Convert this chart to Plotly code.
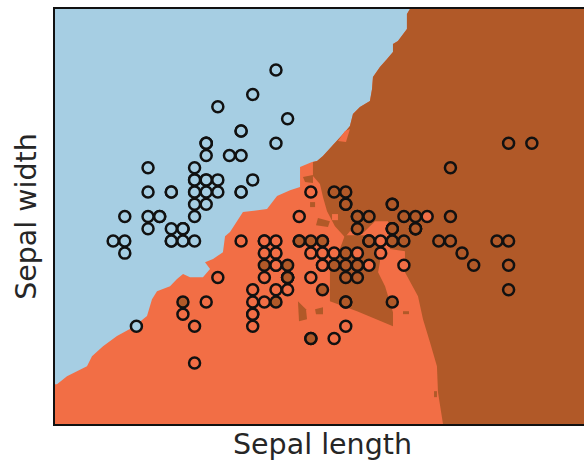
import plotly.graph_objects as go

# Iris samples (sepal length, sepal width)
setosa_length = [5.1,4.9,4.7,4.6,5.0,5.4,4.6,5.0,4.4,4.9,5.4,4.8,4.8,4.3,5.8,5.7,5.4,5.1,5.7,5.1,5.4,5.1,4.6,5.1,4.8,5.0,5.0,5.2,5.2,4.7,4.8,5.4,5.2,5.5,4.9,5.0,5.5,4.9,4.4,5.1,5.0,4.5,4.4,5.0,5.1,4.8,5.1,4.6,5.3,5.0]
setosa_width = [3.5,3.0,3.2,3.1,3.6,3.9,3.4,3.4,2.9,3.1,3.7,3.4,3.0,3.0,4.0,4.4,3.9,3.5,3.8,3.8,3.4,3.7,3.6,3.3,3.4,3.0,3.4,3.5,3.4,3.2,3.1,3.4,4.1,4.2,3.1,3.2,3.5,3.1,3.0,3.4,3.5,2.3,3.2,3.5,3.8,3.0,3.8,3.2,3.7,3.3]
versicolor_length = [7.0,6.4,6.9,5.5,6.5,5.7,6.3,4.9,6.6,5.2,5.0,5.9,6.0,6.1,5.6,6.7,5.6,5.8,6.2,5.6,5.9,6.1,6.3,6.1,6.4,6.6,6.8,6.7,6.0,5.7,5.5,5.5,5.8,6.0,5.4,6.0,6.7,6.3,5.6,5.5,5.5,6.1,5.8,5.0,5.6,5.7,5.7,6.2,5.1,5.7]
versicolor_width = [3.2,3.2,3.1,2.3,2.8,2.8,3.3,2.4,2.9,2.7,2.0,3.0,2.2,2.9,2.9,3.1,3.0,2.7,2.2,2.5,3.2,2.8,2.5,2.8,2.9,3.0,2.8,3.0,2.9,2.6,2.4,2.4,2.7,2.7,3.0,3.4,3.1,2.3,3.0,2.5,2.6,3.0,2.6,2.3,2.7,3.0,2.9,2.9,2.5,2.8]
virginica_length = [6.3,5.8,7.1,6.3,6.5,7.6,4.9,7.3,6.7,7.2,6.5,6.4,6.8,5.7,5.8,6.4,6.5,7.7,7.7,6.0,6.9,5.6,7.7,6.3,6.7,7.2,6.2,6.1,6.4,7.2,7.4,7.9,6.4,6.3,6.1,7.7,6.3,6.4,6.0,6.9,6.7,6.9,5.8,6.8,6.7,6.7,6.3,6.5,6.2,5.9]
virginica_width = [3.3,2.7,3.0,2.9,3.0,3.0,2.5,2.9,2.5,3.6,3.2,2.7,3.0,2.5,2.8,3.2,3.0,3.8,2.6,2.2,3.2,2.8,2.8,2.7,3.3,3.2,2.8,3.0,2.8,3.0,2.8,3.8,2.8,2.8,2.6,3.0,3.4,3.1,3.0,3.1,3.1,3.1,2.7,3.2,3.3,3.0,2.5,3.0,3.4,3.0]

# Decision-surface boundaries (data units)
upper_edge_x = [6.852,6.826,6.826,6.792,6.749,6.706,6.706,6.655,6.594,6.534,6.526,6.508,6.422,6.362,6.336,6.293,6.233,6.182,6.104,6.053]
upper_edge_y = [4.9,4.859,4.736,4.695,4.638,4.613,4.548,4.490,4.424,4.343,4.244,4.146,4.097,4.039,3.941,3.892,3.834,3.777,3.695,3.654]
blue_edge_x = [6.010,5.907,5.907,5.821,5.709,5.623,5.416,5.305,5.262,5.244,5.159,5.090,5.133,5.072,4.961,4.901,4.849,4.789,4.677,4.634,4.591,4.471,4.333,4.213,4.118,4.075,3.903,3.817,3.8]
blue_edge_y = [3.646,3.605,3.441,3.416,3.367,3.261,3.236,3.072,3.039,2.908,2.851,2.826,2.769,2.703,2.703,2.728,2.687,2.629,2.588,2.523,2.384,2.293,2.220,2.138,2.056,1.974,1.892,1.826,1.826]
brown_edge_x = [6.018,6.018,6.078,6.104,6.139,6.207,6.293,6.336,6.440,6.551,6.663,6.680,6.809,6.809,6.921,6.964,7.024,7.084,7.093,7.136]
brown_edge_y = [3.646,3.531,3.466,3.359,3.244,3.121,3.031,3.080,3.056,3.162,3.162,2.933,2.916,2.744,2.547,2.359,2.170,1.974,1.761,1.5]
wedge_x = [6.293,6.526,6.569,6.595,6.578,6.638,6.706,6.706,6.397,6.164,6.164,6.233]
wedge_y = [3.047,3.047,2.974,2.834,2.744,2.629,2.416,2.301,2.424,2.506,2.826,2.892]
brown_patches = [
    ([5.889,5.958,5.967,5.898],[2.506,2.441,2.359,2.342]),
    ([6.036,6.104,6.104,6.044],[2.441,2.457,2.400,2.400]),
    ([5.932,6.018,6.018,5.950],[3.523,3.539,3.474,3.482]),
    ([5.993,6.036,6.036,5.993],[3.318,3.318,3.277,3.277]),
    ([6.061,6.164,6.147,6.044],[3.187,3.162,3.113,3.129]),
    ([7.059,7.084,7.084,7.059],[1.769,1.769,1.720,1.720]),
    ([6.792,6.844,6.844,6.792],[2.424,2.424,2.400,2.400]),
]
orange_patches = [
    ([6.182,6.233,6.233,6.182],[3.220,3.220,3.170,3.170]),
    ([6.233,6.293,6.336,6.302],[3.818,3.900,3.916,3.810]),
]

x_range = [3.8, 8.4]
y_range = [1.5, 4.9]
BLUE, ORANGE, BROWN = "#a6cee3", "#f26e45", "#b15928"

fig = go.Figure()

def region(xs, ys, color):
    fig.add_trace(go.Scatter(x=xs, y=ys, mode="lines", fill="toself", fillcolor=color,
                             line=dict(width=0, color=color), hoverinfo="skip", showlegend=False))

region([x_range[0], x_range[1], x_range[1], x_range[0]], [y_range[0], y_range[0], y_range[1], y_range[1]], ORANGE)
region(upper_edge_x + blue_edge_x + [x_range[0]], upper_edge_y + blue_edge_y + [y_range[1]], BLUE)
region(upper_edge_x + brown_edge_x + [x_range[1], x_range[1]], upper_edge_y + brown_edge_y + [y_range[0], y_range[1]], BROWN)
region(wedge_x, wedge_y, BROWN)
for px, py in brown_patches:
    region(px, py, BROWN)
for px, py in orange_patches:
    region(px, py, ORANGE)

for xs, ys, color in [(setosa_length, setosa_width, BLUE),
                      (versicolor_length, versicolor_width, ORANGE),
                      (virginica_length, virginica_width, BROWN)]:
    fig.add_trace(go.Scatter(x=xs, y=ys, mode="markers", showlegend=False,
                             marker=dict(size=11, color=color, line=dict(color="#111111", width=2.5))))

fig.update_layout(
    width=590, height=461, autosize=False,
    margin=dict(l=55, r=0, t=9, b=37),
    paper_bgcolor="white", plot_bgcolor=BLUE,
    font=dict(family="DejaVu Sans", color="#262626"),
    xaxis=dict(range=x_range, showgrid=False, zeroline=False, showticklabels=False, ticks="",
               showline=True, linecolor="#111111", linewidth=1.5, mirror=True, automargin=False,
               title=dict(text="Sepal length", font=dict(size=28.5), standoff=11)),
    yaxis=dict(range=y_range, showgrid=False, zeroline=False, showticklabels=False, ticks="",
               showline=True, linecolor="#111111", linewidth=1.5, automargin=False,
               title=dict(text="Sepal width", font=dict(size=28.5), standoff=8)),
)
fig.write_html("out.html", config={"displayModeBar": False},
               post_script="document.body.style.margin='0';document.documentElement.style.overflow='hidden';")
